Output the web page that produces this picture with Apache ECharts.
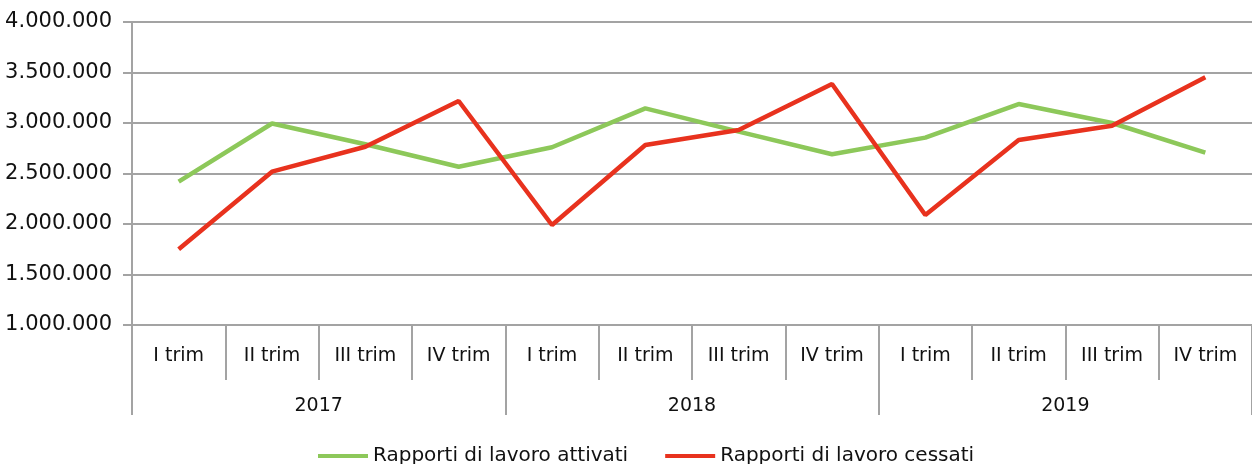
<!DOCTYPE html>
<html>
<head>
<meta charset="utf-8">
<script src="https://cdn.jsdelivr.net/npm/echarts@6/dist/echarts.min.js"></script>
<style>
html,body{margin:0;padding:0;background:#fff;}
#chart{width:1252px;height:464px;}
</style>
</head>
<body>
<div id="chart"></div>
<script>
const quarters = ['I trim','II trim','III trim','IV trim','I trim','II trim','III trim','IV trim','I trim','II trim','III trim','IV trim'];
const years = ['2017','2018','2019'];
const attivati = [2420000, 2995000, 2790000, 2567000, 2760000, 3145000, 2915000, 2690000, 2855000, 3188000, 3000000, 2706000];
const cessati  = [1750000, 2518000, 2765000, 3218000, 1990000, 2782000, 2930000, 3386000, 2089000, 2832000, 2973000, 3452000];
const seriesNames = ['Rapporti di lavoro attivati', 'Rapporti di lavoro cessati'];

function fmt(v){ return String(v).replace(/\B(?=(\d{3})+(?!\d))/g, '.'); }

const FONT = 'DejaVu Sans';
const TXT = '#111111';
const GRID = '#a3a3a3';

const chart = echarts.init(document.getElementById('chart'), null, {renderer:'canvas'});
chart.setOption({
  animation:false,
  textStyle:{fontFamily:FONT},
  grid:{left:132, right:-2, top:22, bottom:139, containLabel:false},
  legend:{
    left:313, top:441,
    icon:'rect', itemWidth:50, itemHeight:4, itemGap:37,
    textStyle:{fontFamily:FONT, fontSize:20, color:TXT},
    data:seriesNames
  },
  xAxis:[
    {
      type:'category', data:quarters, position:'bottom', boundaryGap:true,
      axisLine:{show:true, lineStyle:{color:GRID, width:2}},
      axisTick:{show:true, interval:0, length:55, lineStyle:{color:GRID, width:2}},
      axisLabel:{interval:0, margin:22, fontFamily:FONT, fontSize:19, color:TXT}
    },
    {
      type:'category', data:years, position:'bottom', offset:55, boundaryGap:true,
      axisLine:{show:false},
      axisTick:{show:true, interval:0, length:35, lineStyle:{color:GRID, width:2}},
      axisLabel:{interval:0, margin:17, fontFamily:FONT, fontSize:19, color:TXT}
    }
  ],
  yAxis:{
    type:'value', min:1000000, max:4000000, interval:500000,
    axisLine:{show:true, lineStyle:{color:GRID, width:2}},
    axisTick:{show:true, length:9, lineStyle:{color:GRID, width:2}},
    splitLine:{show:true, lineStyle:{color:GRID, width:2}},
    axisLabel:{margin:20, fontFamily:FONT, fontSize:21, color:TXT, formatter:fmt}
  },
  series:[
    {name:seriesNames[0], type:'line', data:attivati, xAxisIndex:0, symbol:'none',
     lineStyle:{color:'#8dc85a', width:4.5}, itemStyle:{color:'#8dc85a'}},
    {name:seriesNames[1], type:'line', data:cessati, xAxisIndex:0, symbol:'none',
     lineStyle:{color:'#e8321e', width:4.5}, itemStyle:{color:'#e8321e'}}
  ]
});
</script>
</body>
</html>
